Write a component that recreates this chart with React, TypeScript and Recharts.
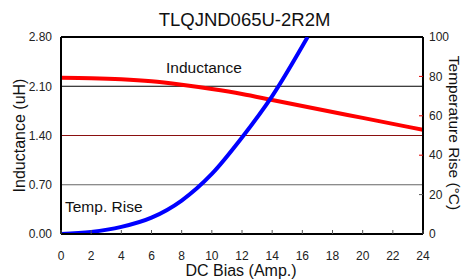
import React from 'react';
import { LineChart, Line, XAxis, YAxis, ReferenceLine } from 'recharts';

// DC bias (A) vs inductance (uH)
const biasAmps = [0, 2, 4, 6, 8, 10, 12, 14, 16, 18, 20, 22, 24];
const inductanceUH = [2.22, 2.215, 2.2, 2.17, 2.12, 2.06, 1.99, 1.905, 1.82, 1.735, 1.65, 1.565, 1.48];

// DC bias (A) vs temperature rise (C)
const tempBiasAmps = [0, 2, 4, 6, 8, 10, 12, 14, 16.35];
const tempRiseC = [0, 1, 3.6, 8.3, 17, 30.5, 49, 70, 100];

const xTicks = [0, 2, 4, 6, 8, 10, 12, 14, 16, 18, 20, 22, 24];
const leftTicks = [0, 0.7, 1.4, 2.1, 2.8];
const rightTicks = [0, 20, 40, 60, 80, 100];

const inductanceData = biasAmps.map((x, i) => ({ x, l: inductanceUH[i] }));
const tempData = tempBiasAmps.map((x, i) => ({ x, t: tempRiseC[i] }));

const FONT = '"Liberation Sans", Arial, sans-serif';

const XTick = (props: any) => {
  const { x, y, payload } = props;
  return (
    <g>
      <line x1={x} x2={x} y1={y - 21} y2={y - 17} stroke="#555" strokeWidth={1} />
      <text x={x} y={y} dy="0.71em" textAnchor="middle" fontSize={12} fontFamily={FONT} fill="#222">
        {payload.value}
      </text>
    </g>
  );
};

const RightTick = (props: any) => {
  const { x, y, payload } = props;
  const v = payload.value;
  const color = v === 20 ? '#555' : '#e00000';
  return (
    <g>
      {v > 0 && v < 100 && <line x1={x - 10} x2={x - 6} y1={y} y2={y} stroke={color} strokeWidth={1} />}
      <text x={x} y={y} dy="0.355em" textAnchor="start" fontSize={12} fontFamily={FONT} fill="#222">
        {v}
      </text>
    </g>
  );
};

export default function App() {
  return (
    <div style={{ position: 'absolute', left: 0, top: 0, width: 463, height: 279, background: '#fff' }}>
      <LineChart width={463} height={279} margin={{ top: 37, right: 0, bottom: 0, left: 0 }}>
        <XAxis
          type="number"
          dataKey="x"
          domain={[0, 24]}
          ticks={xTicks}
          height={45}
          tickSize={0}
          tickMargin={17}
          tick={<XTick />}
          axisLine={{ stroke: '#000', strokeWidth: 2 }}
          allowDataOverflow
        />
        <YAxis
          yAxisId="left"
          domain={[0, 2.8]}
          ticks={leftTicks}
          width={61}
          tickSize={0}
          tickMargin={9}
          tickLine={false}
          tickFormatter={(v: number) => v.toFixed(2)}
          tick={{ fontSize: 12, fill: '#222', fontFamily: FONT }}
          axisLine={{ stroke: '#000', strokeWidth: 2 }}
          allowDataOverflow
        />
        <YAxis
          yAxisId="right"
          orientation="right"
          domain={[0, 100]}
          ticks={rightTicks}
          width={40}
          tickSize={0}
          tickMargin={6}
          tickLine={false}
          tick={<RightTick />}
          axisLine={{ stroke: '#000', strokeWidth: 2 }}
          allowDataOverflow
        />
        <ReferenceLine yAxisId="left" y={2.1} stroke="#000" strokeWidth={1} />
        <ReferenceLine yAxisId="left" y={1.4} stroke="#8b1010" strokeWidth={1} />
        <ReferenceLine yAxisId="left" y={0.7} stroke="#666" strokeWidth={1} />
        <ReferenceLine yAxisId="left" y={2.8} stroke="#000" strokeWidth={2} />
        <Line
          yAxisId="left"
          data={inductanceData}
          dataKey="l"
          type="monotone"
          stroke="#ff0000"
          strokeWidth={4}
          dot={false}
          isAnimationActive={false}
        />
        <Line
          yAxisId="right"
          data={tempData}
          dataKey="t"
          type="monotone"
          stroke="#0000ff"
          strokeWidth={4}
          dot={false}
          isAnimationActive={false}
        />
      </LineChart>
      <svg width={463} height={279} style={{ position: 'absolute', left: 0, top: 0, pointerEvents: 'none' }}>
        <g fontFamily={FONT} fill="#111">
          <text x={244.5} y={25.5} fontSize={18.5} textAnchor="middle">TLQJND065U-2R2M</text>
          <text x={166} y={73.3} fontSize={15.5}>Inductance</text>
          <text x={65} y={212.3} fontSize={15.5}>Temp. Rise</text>
          <text x={241} y={276.3} fontSize={16} textAnchor="middle">DC Bias (Amp.)</text>
          <text x={24.5} y={135.5} fontSize={16} textAnchor="middle" transform="rotate(-90 24.5 135.5)">
            Inductance (uH)
          </text>
          <text x={448.5} y={133} fontSize={15.5} textAnchor="middle" transform="rotate(90 448.5 133)">
            Temperature Rise (°C)
          </text>
        </g>
      </svg>
    </div>
  );
}
